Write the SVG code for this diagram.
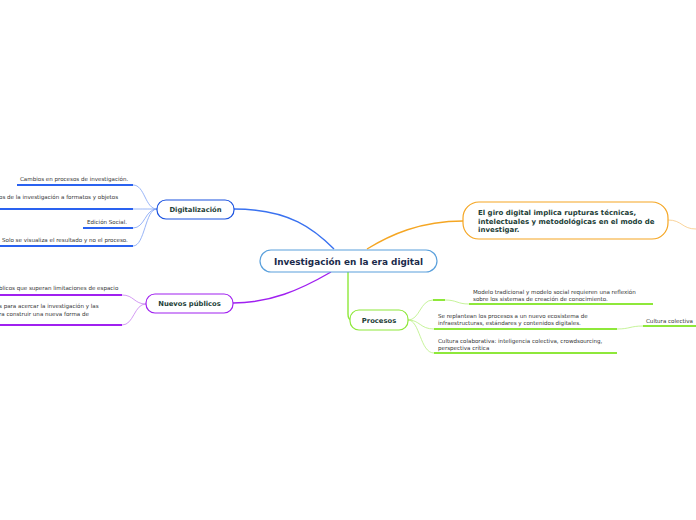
<svg xmlns="http://www.w3.org/2000/svg" width="696" height="520" viewBox="0 0 696 520">
<style>
.node{fill:#fff;stroke-width:1.2}
.nt{font-family:"DejaVu Sans",Verdana,sans-serif;font-weight:bold;fill:#1d4037}
.ct{font-family:"DejaVu Sans",Verdana,sans-serif;font-size:5.55px;fill:#333}
.thin{fill:none;stroke-width:0.8}
.ul{fill:none;stroke-width:2}
.main{fill:none;stroke-width:1.4}
</style>
<rect width="696" height="520" fill="#fff"/>
<g id="connectors">
<path class="main" d="M334,249 C315,230 290,209 234,209" stroke="#3a72f0"/>
<path class="main" d="M367,249 C390,235 420,221 463,221" stroke="#f5a623"/>
<path class="main" d="M331,272 C300,290 270,303 233,303" stroke="#a020f0"/>
<path class="main" d="M348,272 L348,314 Q348,320 352,320" stroke="#8ee83a"/>
<path class="thin" d="M668,220 C682,220 682,229 696,229" stroke="#f8c880"/>
<path class="thin" d="M157,209 C145,209 145,185 133,185" stroke="#7fa2f5"/>
<path class="thin" d="M157,209 C145,209 145,209 133,209" stroke="#7fa2f5"/>
<path class="thin" d="M157,209 C145,209 145,228 133,228" stroke="#7fa2f5"/>
<path class="thin" d="M157,209 C145,209 145,246 133,246" stroke="#7fa2f5"/>
<path class="thin" d="M146,304 C134,304 134,295 122,295" stroke="#c880f0"/>
<path class="thin" d="M146,304 C134,304 134,325 122,325" stroke="#c880f0"/>
<path class="thin" d="M408,320 C420,320 420,300 433,300" stroke="#b8f080"/>
<path class="thin" d="M445,300 C457,300 457,304 469,304" stroke="#b8f080"/>
<path class="thin" d="M408,320 C420,320 420,329 434,329" stroke="#b8f080"/>
<path class="thin" d="M408,320 C420,320 420,353 434,353" stroke="#b8f080"/>
<path class="thin" d="M617,329 C630,329 630,326 643,326" stroke="#b8f080"/>
<path class="ul" d="M17,185 H133" stroke="#2a62f0"/>
<path class="ul" d="M0,209 H133" stroke="#2a62f0"/>
<path class="ul" d="M83,228 H133" stroke="#2a62f0"/>
<path class="ul" d="M0,246 H133" stroke="#2a62f0"/>
<path class="ul" d="M0,295 H122" stroke="#a020f0"/>
<path class="ul" d="M0,325 H122" stroke="#a020f0"/>
<path class="ul" d="M433,300 H445" stroke="#8ee83a"/>
<path class="ul" d="M469,304 H653" stroke="#8ee83a"/>
<path class="ul" d="M434,329 H617" stroke="#8ee83a"/>
<path class="ul" d="M643,326 H696" stroke="#8ee83a"/>
<path class="ul" d="M434,353 H617" stroke="#8ee83a"/>
</g>
<g id="central">
<rect class="node" x="260" y="250" width="177" height="22" rx="11" stroke="#5aa0dc"/>
<text class="nt" x="348.5" y="264.5" font-size="8.9" text-anchor="middle" style="fill:#1b2b4b">Investigación en la era digital</text>
</g>
<g id="digitalizacion">
<rect class="node" x="157" y="200" width="77" height="19" rx="9" stroke="#1a52e0"/>
<text class="nt" x="195.5" y="212" font-size="6.8" text-anchor="middle">Digitalización</text>
</g>
<g id="dig-1"><text class="ct" x="20" y="181">Cambios en procesos de investigación.</text></g>
<g id="dig-2"><text class="ct" x="-1" y="199">os de la investigación a formatos y objetos</text></g>
<g id="dig-3"><text class="ct" x="87" y="224">Edición Social.</text></g>
<g id="dig-4"><text class="ct" x="2" y="242">Solo se visualiza el resultado y no el proceso.</text></g>
<g id="nuevos">
<rect class="node" x="146" y="294" width="87" height="19" rx="9" stroke="#a020f0"/>
<text class="nt" x="189.5" y="306" font-size="6.8" text-anchor="middle">Nuevos públicos</text>
</g>
<g id="nue-1"><text class="ct" x="-1" y="290">blicos que superan limitaciones de espacio</text></g>
<g id="nue-2"><text class="ct" x="-1" y="308">s para acercar la investigación y las</text><text class="ct" x="-1" y="316">ra construir una nueva forma de</text></g>
<g id="giro">
<rect class="node" x="463" y="202" width="205" height="37" rx="16" stroke="#f5a623"/>
<text class="nt" x="478" y="215" font-size="7">El giro digital implica rupturas técnicas,</text>
<text class="nt" x="478" y="223.5" font-size="7">intelectuales y metodológicas en el modo de</text>
<text class="nt" x="478" y="232" font-size="7">investigar.</text>
</g>
<g id="procesos">
<rect class="node" x="350" y="310" width="58" height="20" rx="9" stroke="#8ee83a"/>
<text class="nt" x="379" y="322.5" font-size="6.8" text-anchor="middle">Procesos</text>
</g>
<g id="pro-1"><text class="ct" x="473" y="294">Modelo tradicional y modelo social requieren una reflexión</text><text class="ct" x="473" y="301">sobre los sistemas de creación de conocimiento.</text></g>
<g id="pro-2"><text class="ct" x="438" y="318">Se replantean los procesos a un nuevo ecosistema de</text><text class="ct" x="438" y="325">infraestructuras, estándares y contenidos digitales.</text></g>
<g id="pro-3"><text class="ct" x="646" y="323">Cultura colectiva</text></g>
<g id="pro-4"><text class="ct" x="438" y="343">Cultura colaborativa: inteligencia colectiva, crowdsourcing,</text><text class="ct" x="438" y="350">perspectiva crítica</text></g>
</svg>
